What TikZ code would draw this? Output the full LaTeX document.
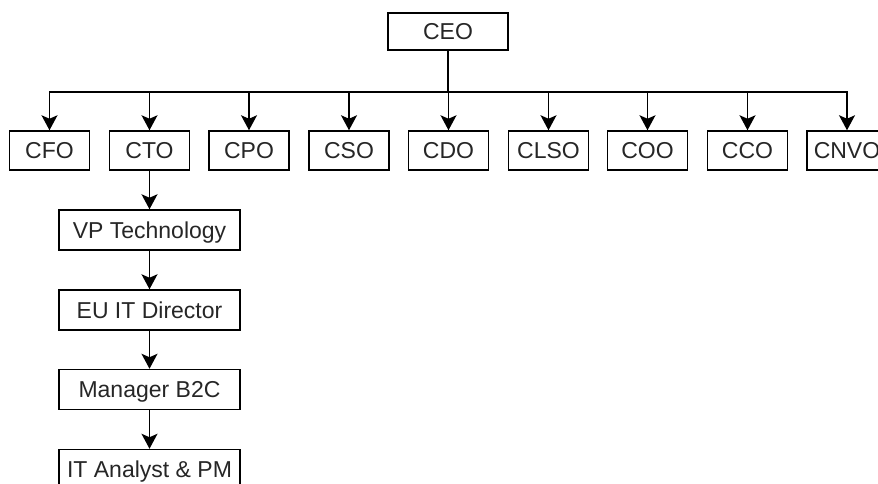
\documentclass[tikz,border=0pt]{standalone}
\usepackage{fontspec}
\setmainfont{Liberation Sans}
\usetikzlibrary{arrows.meta}
\begin{document}
\begin{tikzpicture}[x=1pt,y=-1pt,
  box/.style={draw=black,line width=1.5pt,fill=white,inner sep=0pt,
    font=\fontsize{23}{27}\selectfont,text=black!85,
    text height=16.5pt,text depth=0pt},
  chief/.style={box,minimum width=80pt,minimum height=39pt},
  staff/.style={box,minimum width=181pt,minimum height=40pt},
  link/.style={draw=black,line width=1.5pt,
    -{Stealth[length=15pt,width=16pt,inset=3.5pt]}}]
\useasboundingbox (0,0) rectangle (878,483);
\clip (0,0) rectangle (878,483);

% top of the hierarchy
\node[box,minimum width=120pt,minimum height=37pt] (ceo) at (448,31.5) {CEO};
\coordinate (bus) at (448,92);

% executive row
\foreach \name/\label/\x in {cfo/CFO/49.5, cto/CTO/149.5, cpo/CPO/249, cso/CSO/349,
  cdo/CDO/448.5, clso/CLSO/548.5, coo/COO/647.5, cco/CCO/747.5, cnvo/CNVO/847}
  \node[chief] (\name) at (\x,150.5) {\label};

\foreach \name in {cfo,cto,cpo,cso,cdo,clso,coo,cco,cnvo}
  \draw[link] (ceo.south) -- (ceo.south |- bus) -| (\name.north);

% technology reporting line
\node[staff] (vp)  at (149.5,230) {VP Technology};
\node[staff] (eu)  at (149.5,310) {EU IT Director};
\node[staff] (mgr) at (149.5,389.5) {Manager B2C};
\node[staff] (ana) at (149.5,469.5) {IT Analyst \& PM};

\draw[link] (cto) -- (vp);
\draw[link] (vp) -- (eu);
\draw[link] (eu) -- (mgr);
\draw[link] (mgr) -- (ana);
\end{tikzpicture}
\end{document}
